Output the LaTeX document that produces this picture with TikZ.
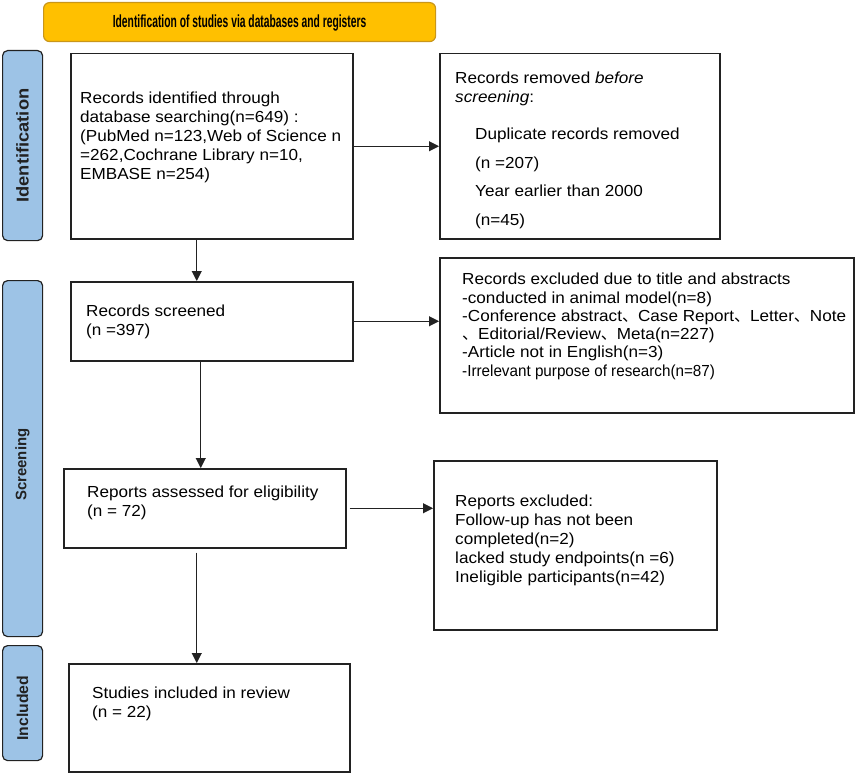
\documentclass[tikz,border=0pt]{standalone}
\usepackage{fontspec}
\usepackage{graphicx}
\setmainfont{Liberation Sans}[FakeStretch=1.07]
\newfontfamily\cjk{Noto Sans CJK SC}
\usetikzlibrary{arrows.meta,calc}
\definecolor{hdrfill}{HTML}{FFC000}
\definecolor{hdrline}{HTML}{C9961A}
\definecolor{barfill}{HTML}{9DC3E6}
\definecolor{lineblk}{HTML}{222222}
\begin{document}
\begin{tikzpicture}[x=1pt,y=-1pt,
  box/.style={draw=lineblk, line width=1.5pt, inner sep=0pt, anchor=north west},
  bar/.style={draw=lineblk, fill=barfill, line width=1.2pt, rounded corners=5pt, inner sep=0pt, anchor=north west},
  txt/.style={anchor=north west, inner sep=0pt, align=left, text=black, font=\fontsize{16}{19}\selectfont},
  arr/.style={-{Triangle[length=10pt,width=10pt]}, line width=1pt, draw=lineblk},
  barlbl/.style={rotate=90, inner sep=0pt, text=lineblk, font=\bfseries\fontsize{16}{16}\selectfont}
]
\useasboundingbox (0,0) rectangle (864,773);

% header
\node[draw=hdrline, fill=hdrfill, line width=1.2pt, rounded corners=6pt, inner sep=0pt,
      minimum width=392pt, minimum height=39pt, anchor=north west] (hdr) at (43,2) {};
\node[inner sep=0pt, text=black, font=\bfseries\fontsize{17.5}{17.5}\selectfont] (hdrt) at ([yshift=-1pt]hdr.center)
  {\scalebox{0.55}[1]{Identification of studies via databases and registers}};

% side bars
\node[bar, minimum width=40pt, minimum height=190pt] (s1) at (2,50) {};
\node[barlbl] (s1t) at (s1.center) {\scalebox{1.07}{Identification}};
\node[bar, minimum width=40pt, minimum height=356pt] (s2) at (2,280) {};
\node[barlbl] (s2t) at ([yshift=-6pt]s2.center) {\scalebox{0.87}[0.95]{Screening}};
\node[bar, minimum width=40pt, minimum height=115pt] (s3) at (2,645) {};
\node[barlbl] (s3t) at ([yshift=-5pt]s3.center) {\scalebox{0.92}[0.98]{Included}};

% boxes
\node[box, minimum width=282pt, minimum height=185pt] (b1) at (70,53) {};
\node[box, minimum width=280pt, minimum height=185pt] (b2) at (439,53) {};
\node[box, minimum width=282pt, minimum height=79pt] (b3) at (70,281) {};
\node[box, line width=2.2pt, minimum width=414pt, minimum height=155pt] (b4) at (439,257) {};
\node[box, minimum width=282pt, minimum height=79pt] (b5) at (63,468) {};
\node[box, minimum width=283pt, minimum height=169pt] (b6) at (433,460) {};
\node[box, minimum width=281pt, minimum height=108pt] (b7) at (68,663) {};

% texts
\node[txt] (t1) at (80,92) {Records identified through\\database searching(n=649) :\\(PubMed n=123,Web of Science n\\=262,Cochrane Library n=10,\\EMBASE n=254)};
\node[txt] (t2a) at (455,72) {Records removed \textit{before}\\\textit{screening}:};
\node[txt, font=\fontsize{16}{28.5}\selectfont] (t2b) at (475,128) {Duplicate records removed\\(n =207)\\Year earlier than 2000\\(n=45)};
\node[txt] (t3) at (86,305) {Records screened\\(n =397)};
\node[txt, font=\fontsize{16}{18.3}\selectfont] (t4) at (462,273) {Records excluded due to title and abstracts\\-conducted in animal model(n=8)\\-Conference abstract{\cjk 、}Case Report{\cjk 、}Letter{\cjk 、}Note\\{\cjk 、}Editorial/Review{\cjk 、}Meta(n=227)\\-Article not in English(n=3)\\\scalebox{0.89}[1]{-Irrelevant purpose of research(n=87)}};
\node[txt] (t5) at (87,486) {Reports assessed for eligibility\\(n = 72)};
\node[txt] (t6) at (455,495) {Reports excluded:\\Follow-up has not been\\completed(n=2)\\lacked study endpoints(n =6)\\Ineligible participants(n=42)};
\node[txt] (t7) at (92,687) {Studies included in review\\(n = 22)};

% arrows
\draw[arr] (b1.east) -- (b1.east -| b2.west);
\draw[arr] ([xshift=-15pt]b1.south) -- ([xshift=-15pt]b1.south |- b3.north);
\draw[arr] (b3.east) -- (b3.east -| b4.west);
\draw[arr] ([xshift=-11pt]b3.south) -- ([xshift=-11pt]b3.south |- b5.north);
\draw[arr, shorten <=3pt] (b5.east) -- (b5.east -| b6.west);
\draw[arr, shorten <=4pt] ([xshift=-8pt]b5.south) -- ([xshift=-8pt]b5.south |- b7.north);
\end{tikzpicture}
\end{document}
